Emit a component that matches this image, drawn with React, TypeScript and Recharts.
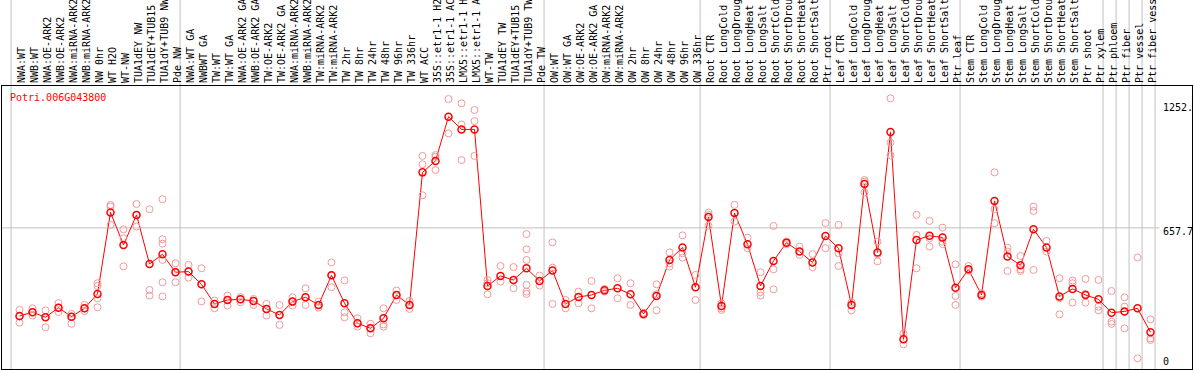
import React from 'react';
import { ComposedChart, Line, Scatter, XAxis, YAxis, ReferenceLine } from 'recharts';

const geneId = 'Potri.006G043800';

const categories = [
  'NWA:WT', 'NWB:WT', 'NWA:OE-ARK2', 'NWB:OE-ARK2', 'NWA:miRNA-ARK2', 'NWB:miRNA-ARK2',
  'NW 0hr', 'WT H2O', 'WT-NW', 'TUA1dEY NW', 'TUA1dEY+TUB15 NW', 'TUA1dY+TUB9 NW', 'Pde NW',
  'NWA:WT GA', 'NWBWT GA', 'TW:WT', 'TW:WT GA', 'NWA:OE-ARK2 GA', 'NWB:OE-ARK2 GA',
  'TW:OE-ARK2', 'TW:OE-ARK2 GA', 'NWA:miRNA-ARK2', 'NWB:miRNA-ARK2', 'TW:miRNA-ARK2',
  'TW:miRNA-ARK2', 'TW 2hr', 'TW 8hr', 'TW 24hr', 'TW 48hr', 'TW 96hr', 'TW 336hr',
  'WT ACC', '35S::etr1-1 H2O', '35S::etr1-1 ACC', 'LMX5::etr1-1 H2O', 'LMX5::etr1-1 ACC',
  'WT-TW', 'TUA1dEY TW', 'TUA1dEY+TUB15 TW', 'TUA1dY+TUB9 TW', 'Pde TW',
  'OW:WT', 'OW:WT GA', 'OW:OE-ARK2', 'OW:OE-ARK2 GA', 'OW:miRNA-ARK2', 'OW:miRNA-ARK2',
  'OW 2hr', 'OW 8hr', 'OW 24hr', 'OW 48hr', 'OW 96hr', 'OW 336hr',
  'Root CTR', 'Root LongCold', 'Root LongDrought', 'Root LongHeat', 'Root LongSalt',
  'Root ShortCold', 'Root ShortDrought', 'Root ShortHeat', 'Root ShortSalt', 'Ptr root',
  'Leaf CTR', 'Leaf LongCold', 'Leaf LongDrought', 'Leaf LongHeat', 'Leaf LongSalt',
  'Leaf ShortCold', 'Leaf ShortDrought', 'Leaf ShortHeat', 'Leaf ShortSalt', 'Ptr leaf',
  'Stem CTR', 'Stem LongCold', 'Stem LongDrought', 'Stem LongHeat', 'Stem LongSalt',
  'Stem ShortCold', 'Stem ShortDrought', 'Stem ShortHeat', 'Stem ShortSalt', 'Ptr shoot',
  'Ptr xylem', 'Ptr phloem', 'Ptr fiber', 'Ptr vessel', 'Ptr fiber vessel',
];

const means = [
  235, 253, 229, 275, 232, 272, 341, 732, 576, 720,
  485, 531, 445, 448, 387, 293, 312, 315, 307, 269,
  240, 304, 325, 288, 430, 296, 200, 176, 224, 336,
  288, 924, 979, 1191, 1130, 1130, 379, 427, 408, 464,
  403, 453, 293, 326, 336, 358, 368, 339, 245, 331,
  504, 564, 373, 710, 283, 729, 579, 379, 499, 587,
  544, 492, 619, 560, 288, 868, 540, 1118, 123, 600,
  620, 612, 371, 459, 336, 787, 521, 478, 651, 564,
  329, 365, 336, 315, 251, 257, 272, 157,
];

const replicates = [
  [264, 232, 203], [272, 253, 237], [262, 229, 181], [297, 275, 254], [245, 232, 198],
  [288, 272, 259], [392, 379, 320, 277], [768, 760, 672], [651, 608, 473], [772, 720, 664],
  [747, 360, 333], [795, 603, 582, 504, 397, 329], [488, 445, 397], [480, 448, 419], [464, 387, 305],
  [309, 293, 272], [333, 312, 285], [326, 315, 301], [317, 307, 288], [293, 269, 237],
  [288, 240, 192], [325, 304, 285], [368, 325, 288], [304, 288, 275], [492, 430, 373],
  [406, 253, 229], [224, 200, 184], [198, 176, 152], [272, 195, 184], [357, 336, 312],
  [307, 288, 269], [1003, 963, 814], [1007, 999, 935], [1276, 1191, 1111], [1255, 1154, 983],
  [1223, 1170, 1003], [408, 392, 339], [475, 400], [470, 368], [628, 555, 504, 384, 352, 341],
  [429, 381], [588, 467, 293], [312, 272], [352, 296], [403, 272],
  [365, 352], [416, 320], [392, 288], [251, 240], [387, 339, 262],
  [540, 488, 472], [622, 536, 515], [432, 312], [731, 720, 668], [296, 272, 264],
  [768, 688], [611, 560], [445, 349, 333], [667, 459, 363], [592, 579],
  [568, 528], [532, 469], [681, 560], [672, 536, 475], [301, 262],
  [887, 879, 828], [592, 531, 497], [1279, 1067, 1006], [152, 99], [720, 624, 464],
  [691, 608, 568], [659, 592, 580], [483, 331, 288], [475, 453], [344, 328],
  [924, 747, 680], [563, 544, 451], [523, 459, 451], [760, 739, 456], [595, 544],
  [416, 320, 243], [405, 392, 299], [413, 341, 299], [408, 280, 262], [355, 208, 197],
  [325, 280, 176], [516, 32], [219, 128, 120],
];

// first category of each sample group (88 closes the last one)
const groupStarts = [0, 13, 41, 53, 63, 73, 84, 85, 86, 87, 88];

const yTicks = [0, 657.7, 1252];
const yTickLabels = ['0', '657.7', '1252.'];

const meanData = means.map((v, i) => ({ idx: i, mean: v }));
const repData = replicates.flatMap((reps, i) => reps.map(v => ({ idx: i, value: v })));
const catTicks = categories.map((_, i) => i);

const MONO = '"DejaVu Sans Mono", monospace';
const GRID = '#c0c0c0';

const renderCategoryTick = (props: any) => {
  const { x, payload } = props;
  return (
    <text
      transform={`translate(${x + 5},83) rotate(-90)`}
      fontFamily={MONO}
      fontSize={10}
      fill="#000"
      textAnchor="start"
    >
      {categories[payload.value]}
    </text>
  );
};

const renderValueTick = (props: any) => {
  const { y, payload } = props;
  const i = yTicks.indexOf(payload.value);
  // bottom label sits above its line, the others hang below
  const base = payload.value === 0 ? y : y + 7.5;
  return (
    <text x={1163} y={base} fontFamily={MONO} fontSize={10} fill="#000" textAnchor="start">
      {yTickLabels[i]}
    </text>
  );
};

const RepDot = (props: any) => (
  <circle cx={props.cx} cy={props.cy} r={3.5} fill="none" stroke="#f29a9a" strokeWidth={1} />
);

export default function App() {
  return (
    <div style={{ position: 'absolute', left: 0, top: 0, width: 1194, height: 370, overflow: 'hidden', background: '#fff' }}>
      <ComposedChart width={1194} height={370} data={meanData} margin={{ top: 0, right: 0, bottom: 1, left: 0 }}>
        <XAxis
          dataKey="idx"
          type="number"
          orientation="top"
          mirror
          height={1}
          domain={[-1.5, 90.346]}
          ticks={catTicks}
          interval={0}
          tick={renderCategoryTick}
          axisLine={false}
          tickLine={false}
          allowDataOverflow
        />
        <YAxis
          type="number"
          orientation="right"
          mirror
          width={1}
          domain={[-19.19, 1750.85]}
          ticks={yTicks}
          interval={0}
          tick={renderValueTick}
          axisLine={false}
          tickLine={false}
          allowDataOverflow
        />
        {groupStarts.map(s => (
          <ReferenceLine key={`g-${s}`} x={s - 0.65} stroke={GRID} strokeWidth={1} />
        ))}
        <ReferenceLine
          segment={[{ x: -1.42, y: 657.7 }, { x: 87.7, y: 657.7 }]}
          stroke={GRID}
          strokeWidth={1}
        />
        <Scatter data={repData} dataKey="value" shape={<RepDot />} isAnimationActive={false} />
        <Line
          type="linear"
          dataKey="mean"
          stroke="#ff0000"
          strokeWidth={1}
          dot={{ r: 3.5, stroke: '#ff0000', strokeWidth: 1.5, fill: 'none' }}
          activeDot={false}
          isAnimationActive={false}
        />
      </ComposedChart>
      {/* plot frame */}
      <div
        style={{
          position: 'absolute', left: 1, top: 85, width: 1192, height: 285,
          border: '1px solid #000', boxSizing: 'border-box', pointerEvents: 'none',
        }}
      />
      <div
        style={{
          position: 'absolute', left: 10, top: 92.5, fontFamily: MONO, fontSize: 10,
          lineHeight: '10px', color: '#ff0000', whiteSpace: 'nowrap',
        }}
      >
        {geneId}
      </div>
    </div>
  );
}
